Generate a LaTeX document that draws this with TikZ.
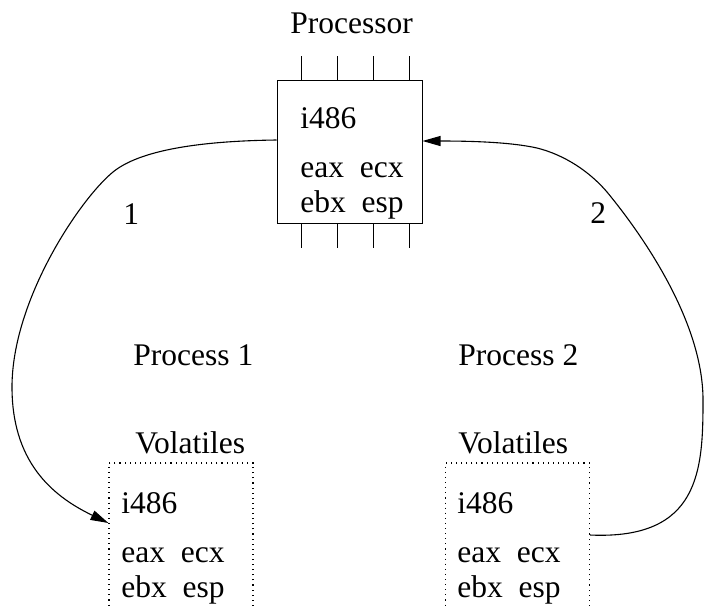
\documentclass[tikz,border=0pt]{standalone}
\usepackage{fontspec}
\setmainfont{Liberation Serif}
\usetikzlibrary{arrows.meta}
\begin{document}
\begin{tikzpicture}[x=0.5pt,y=-0.5pt,
  every node/.style={font=\fontsize{15.75pt}{18pt}\selectfont},
  lbl/.style={anchor=base west,inner sep=0pt},
  chip/.style={draw,line width=0.5pt,minimum width=72.5pt,minimum height=71.5pt,inner sep=0pt},
  vbox/.style={draw,line width=0.55pt,dash pattern=on 0.55pt off 2pt,minimum width=72pt,minimum height=78.5pt,inner sep=0pt},
  pin/.style={line width=0.5pt},
  conn/.style={line width=0.55pt,-{Triangle[length=9pt,width=5pt]}}]
\clip (0,0) rectangle (704,606);
% processor
\node[chip] (proc) at (349.5,151.5) {};
\foreach \px in {301,337,373,409}{
  \draw[pin] (\px,56) -- (\px,80);
  \draw[pin] (\px,223) -- (\px,248);
}
\node[lbl] (ptitle) at (290,33) {Processor};
\node[lbl] (pi) at (300,128) {i486};
\node[lbl] (pa) at (300,177) {eax\ \ ecx};
\node[lbl] (pb) at (300,212) {ebx\ \ esp};
% labels
\node[lbl] (one) at (123,224) {1};
\node[lbl] (two) at (590,223) {2};
\node[lbl] (proc1) at (133,365) {Process 1};
\node[lbl] (proc2) at (458,365) {Process 2};
\node[lbl] (vol1) at (135,453) {Volatiles};
\node[lbl] (vol2) at (458,453) {Volatiles};
% volatile boxes
\node[vbox] (vl) at (181,541.5) {};
\node[vbox] (vr) at (517.5,541.5) {};
\node[lbl] (li) at (121,513) {i486};
\node[lbl] (la) at (121,562) {eax\ \ ecx};
\node[lbl] (lb) at (121,597) {ebx\ \ esp};
\node[lbl] (ri) at (457,513) {i486};
\node[lbl] (ra) at (457,562) {eax\ \ ecx};
\node[lbl] (rb) at (457,597) {ebx\ \ esp};
% connector endpoints
\coordinate (pl) at ([yshift=5.75pt]proc.west);
\coordinate (pr) at ([yshift=5.25pt]proc.east);
\coordinate (vlin) at ([yshift=9.25pt]vl.west);
\coordinate (vrout) at ([yshift=3.25pt]vr.east);
\draw[conn] (pl) .. controls (200,141) and (140,150) .. (113,172)
  .. controls (80,199) and (12,300) .. (12,387)
  .. controls (12,460) and (50,495) .. (vlin);
\draw[conn] (vrout) .. controls (700,540) and (703,470) .. (703,400)
  .. controls (703,320) and (640,232) .. (607,192)
  .. controls (590,172) and (565,155) .. (537,148)
  .. controls (510,142) and (470,141) .. (pr);
\end{tikzpicture}
\end{document}
